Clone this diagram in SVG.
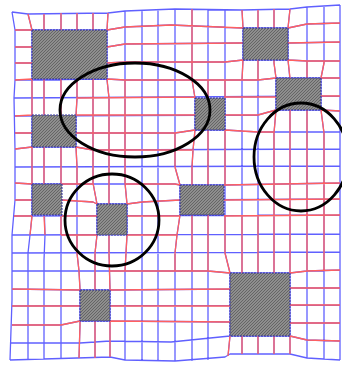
<svg xmlns="http://www.w3.org/2000/svg" width="342" height="367" viewBox="0 0 342 367">
<style>
.b{stroke:#6060ff;stroke-width:1.3;fill:none;stroke-linejoin:round}
.r{stroke:#ff6060;stroke-width:1.3;fill:none;stroke-linejoin:round}
.ob{fill:url(#hatch);stroke:#3030a0;stroke-width:1;stroke-dasharray:2 1}
.el{fill:none;stroke:#000;stroke-width:2.8}
</style>
<defs>
<pattern id="hatch" patternUnits="userSpaceOnUse" width="3" height="3">
<rect width="3" height="3" fill="#8e8e8e"/>
<path d="M-1 1L1 -1M0 3L3 0M2 4L4 2" stroke="#5a5a5a" stroke-width="0.8"/>
</pattern>
</defs>
<rect width="342" height="367" fill="#fff"/>
<g id="connectors">
<path class="b" d="M12 12L15 30L15 80L14 98L15 150L15 200L12 235L12 300L10 360
M28 14L32 30L32 216L30 235L28 253L28 359
M44 14L44 200L45 235L44 260L44 359
M61 13L61 359
M77 13L77 98L76 116L76 147L77 167L77 253L79 271L80 289L80 325L79 358
M93 13L93 183L97 204L97 235L95 253L95 358
M108 13L107 30L107 80L109 98L109 253L110 289L110 357
M125 11L125 183L127 204L127 235L126 253L125 271L125 360
M142 10L142 361
M158 9L158 361
M175 9L175 167L180 185L180 215L177 235L175 253L175 361
M192 9L192 80L195 98L195 130L193 150L192 167L192 361
M208 10L208 360
M225 10L225 253L230 273L230 336L228 356
M242 10L243 28L243 60L242 80L242 354
M258 10L258 354
M274 9L274 63L276 78L276 110L274 133L274 354
M290 9L288 28L288 60L290 80L290 354
M307 7L307 358
M324 6L324 63L321 78L321 110L324 133L324 359
M340 5L340 360
M12 12L28 14L108 13L125 11L175 9L242 10L290 9L307 7L340 5
M15 30L107 30L125 27L171 25L243 28L288 28L307 24L340 23
M15 47L107 47L125 44L240 43L290 43L340 42
M15 63L107 63L125 62L225 62L243 60L288 60L307 61L340 61
M15 80L107 79L125 80L258 80L276 78L321 78L340 78
M14 98L340 96
M15 116L258 115L276 110L321 110L340 111
M15 133L175 133L195 130L225 130L258 132L340 132
M15 149L32 147L76 147L93 150L340 149
M15 167L340 166
M15 183L32 184L175 184L180 185L224 185L340 183
M15 200L62 200L93 202L97 204L127 204L142 202L180 200L340 199
M14 216L340 215
M12 235L340 234
M12 253L340 252
M12 271L208 271L230 273L290 273L307 271L340 270
M12 289L80 290L110 290L230 289L290 288L340 288
M12 306L340 305
M12 325L61 325L80 321L110 321L230 322L290 323L340 323
M11 343L80 343L110 341L171 342L230 336L290 336L307 340L340 341
M10 360L77 358L110 357L125 360L175 361L225 357L230 354L290 354L307 358L340 360"/>
<path class="r" d="M15 30L32 30M107 30L125 27L171 25L243 28M288 28L307 24L340 23
M15 47L32 47M107 47L125 44L240 43L243 43M288 43L340 42
M15 63L32 63M107 63L125 62L225 62L243 60M288 60L307 61L340 61
M15 80L32 79M107 79L125 80L258 80L276 78M321 78L340 78
M77 98L195 97M225 97L276 97M321 96L340 96
M15 116L32 115M76 115L195 115M225 115L258 115L276 110M321 110L340 111
M15 133L32 133M76 133L175 133L195 130M225 130L258 132L274 132
M15 149L32 147M76 147L93 150L192 150
M15 183L32 184M62 184L93 184M125 184L175 184L180 185M224 185L340 183
M15 200L32 200M62 200L93 202L97 204M127 204L142 202L180 200M224 200L340 199
M14 216L32 216M62 216L97 216M127 216L180 216M224 216L340 215
M61 235L97 235M127 235L177 235
M109 271L208 271L230 273M290 273L307 271L340 270
M12 289L80 290M110 290L230 289M290 288L340 288
M12 306L80 306M110 306L230 306M290 305L340 305
M12 325L61 325L80 321M110 321L230 322M290 323L340 323
M290 336L307 340L340 341
M28 14L32 30M32 79L32 115M32 147L32 184M32 216L30 235
M44 14L44 30M44 79L44 115M44 147L44 184M44 216L45 235
M61 13L61 30M61 79L61 115M61 147L61 184M61 216L61 235
M77 13L77 30M77 79L77 98L76 115M76 147L77 167L77 184M77 235L77 253L79 271L80 290M80 321L80 325L79 358
M93 13L93 30M93 79L93 183L97 204M97 235L95 253L95 290M95 321L95 358
M108 13L107 30M107 79L109 98L109 204M109 235L109 253L110 290M110 321L110 357
M125 80L125 183L127 204M127 235L126 253L125 271
M175 133L175 167L180 185M180 215L177 235L175 253L175 271
M192 9L192 80L195 98M195 130L193 150L192 167L192 185M192 215L192 271
M208 80L208 98M208 130L208 185M208 215L208 271
M225 80L225 98M225 130L225 185M225 215L225 253L230 273M230 336L228 356
M242 10L243 28M243 60L242 80M242 215L242 273M242 336L242 354
M258 10L258 28M258 60L258 80M258 215L258 273M258 336L258 354
M274 9L274 28M274 60L274 63L276 78M276 110L274 133L274 273M274 336L274 354
M290 9L288 28M288 60L290 78M290 110L290 273M290 336L290 354
M307 61L307 78M307 110L307 271
M324 61L324 63L321 78M321 110L324 133L324 271"/>
</g>
<g id="obstacle1"><rect class="ob" x="32" y="30" width="75" height="49"/></g>
<g id="obstacle2"><rect class="ob" x="243" y="28" width="45" height="32"/></g>
<g id="obstacle3"><rect class="ob" x="276" y="78" width="45" height="32"/></g>
<g id="obstacle4"><rect class="ob" x="32" y="115" width="44" height="32"/></g>
<g id="obstacle5"><rect class="ob" x="195" y="98" width="30" height="32"/></g>
<g id="obstacle6"><rect class="ob" x="32" y="184" width="30" height="31"/></g>
<g id="obstacle7"><rect class="ob" x="97" y="204" width="30" height="31"/></g>
<g id="obstacle8"><rect class="ob" x="180" y="185" width="44" height="30"/></g>
<g id="obstacle9"><rect class="ob" x="80" y="290" width="30" height="31"/></g>
<g id="obstacle10"><rect class="ob" x="230" y="273" width="60" height="63"/></g>
<g id="ellipses">
<ellipse class="el" cx="135" cy="110" rx="75" ry="47"/>
<ellipse class="el" cx="301" cy="157" rx="47" ry="54"/>
<ellipse class="el" cx="112" cy="220" rx="47" ry="46"/>
</g>
</svg>
